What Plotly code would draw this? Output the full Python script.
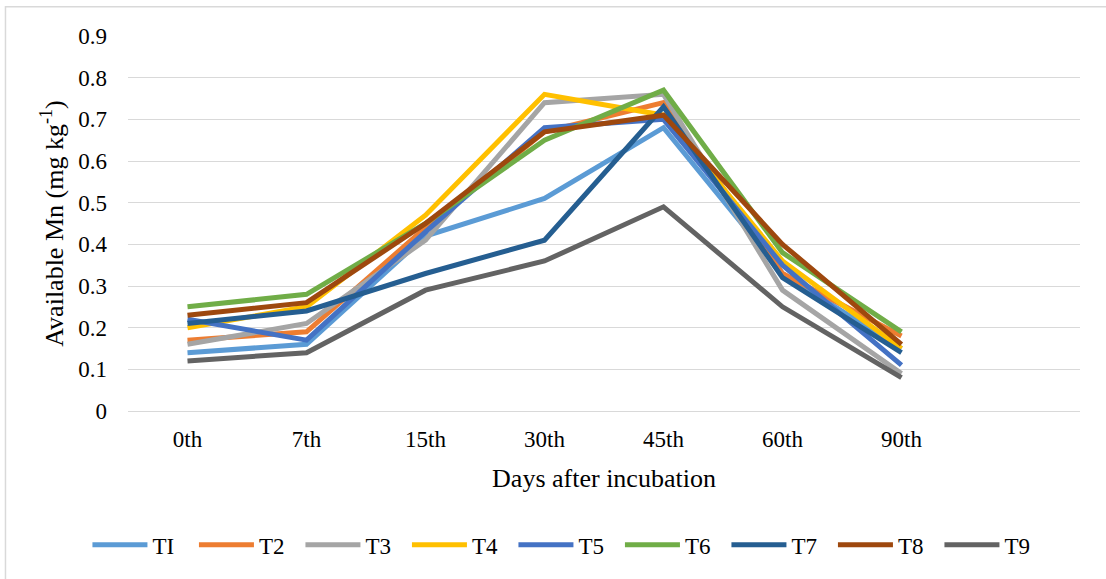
import plotly.graph_objects as go

days = ["0th", "7th", "15th", "30th", "45th", "60th", "90th"]
series_names = ["TI", "T2", "T3", "T4", "T5", "T6", "T7", "T8", "T9"]
T1 = [0.14, 0.16, 0.42, 0.51, 0.68, 0.33, 0.15]
T2 = [0.17, 0.19, 0.44, 0.67, 0.74, 0.33, 0.18]
T3 = [0.16, 0.21, 0.41, 0.74, 0.76, 0.29, 0.09]
T4 = [0.20, 0.25, 0.47, 0.76, 0.71, 0.36, 0.15]
T5 = [0.22, 0.17, 0.43, 0.68, 0.70, 0.35, 0.11]
T6 = [0.25, 0.28, 0.45, 0.65, 0.77, 0.38, 0.19]
T7 = [0.21, 0.24, 0.33, 0.41, 0.73, 0.32, 0.14]
T8 = [0.23, 0.26, 0.45, 0.67, 0.71, 0.40, 0.16]
T9 = [0.12, 0.14, 0.29, 0.36, 0.49, 0.25, 0.08]
values = [T1, T2, T3, T4, T5, T6, T7, T8, T9]
colors = ["#5B9BD5", "#ED7D31", "#A5A5A5", "#FFC000", "#4472C4",
          "#70AD47", "#255E91", "#9E480E", "#636363"]

FONT = "Liberation Serif, Times New Roman, serif"

fig = go.Figure()
for name, vals, col in zip(series_names, values, colors):
    fig.add_trace(go.Scatter(x=days, y=vals, mode="lines", name=name,
                             line=dict(color=col, width=5)))

grid = "#D9D9D9"
fig.update_layout(
    width=1106, height=579,
    margin=dict(l=128, r=26, t=36, b=168, autoexpand=False),
    paper_bgcolor="white", plot_bgcolor="white",
    font=dict(family=FONT, color="#000000", size=23),
    showlegend=True,
    legend=dict(orientation="h", x=-0.0426, xanchor="left", y=-0.357, yanchor="middle",
                font=dict(size=23, family=FONT, color="#000000"),
                itemwidth=55, entrywidth=36.5, entrywidthmode="pixels",
                bgcolor="rgba(0,0,0,0)", tracegroupgap=0),
    xaxis=dict(type="category", categoryorder="array", categoryarray=days,
               range=[-0.5, 7.5], showgrid=False, zeroline=False,
               showline=True, linecolor=grid, linewidth=1.3,
               ticks="", tickfont=dict(size=23, family=FONT, color="#000000"),
               ticklabelstandoff=7, automargin=False,
               title=dict(text="Days after incubation", standoff=18,
                          font=dict(size=26, family=FONT, color="#000000"))),
    yaxis=dict(range=[0, 0.9], dtick=0.1, tickformat="~g", showgrid=True,
               gridcolor=grid, gridwidth=1.3, zeroline=False, showline=False,
               ticks="", tickfont=dict(size=23, family=FONT, color="#000000"),
               ticklabelstandoff=20, automargin=False,
               title=dict(text="Available Mn (mg kg<sup>-1</sup>)", standoff=7,
                          font=dict(size=26, family=FONT, color="#000000"))),
    shapes=[dict(type="rect", xref="paper", yref="paper",
                 x0=-0.1287, x1=1.2, y0=-1.0, y1=1.0778,
                 line=dict(color=grid, width=1.5), fillcolor="rgba(0,0,0,0)",
                 layer="below")],
)

fig.write_html("out.html", config={"displayModeBar": False},
               post_script="document.body.style.margin='0px';document.body.style.padding='0px';")
